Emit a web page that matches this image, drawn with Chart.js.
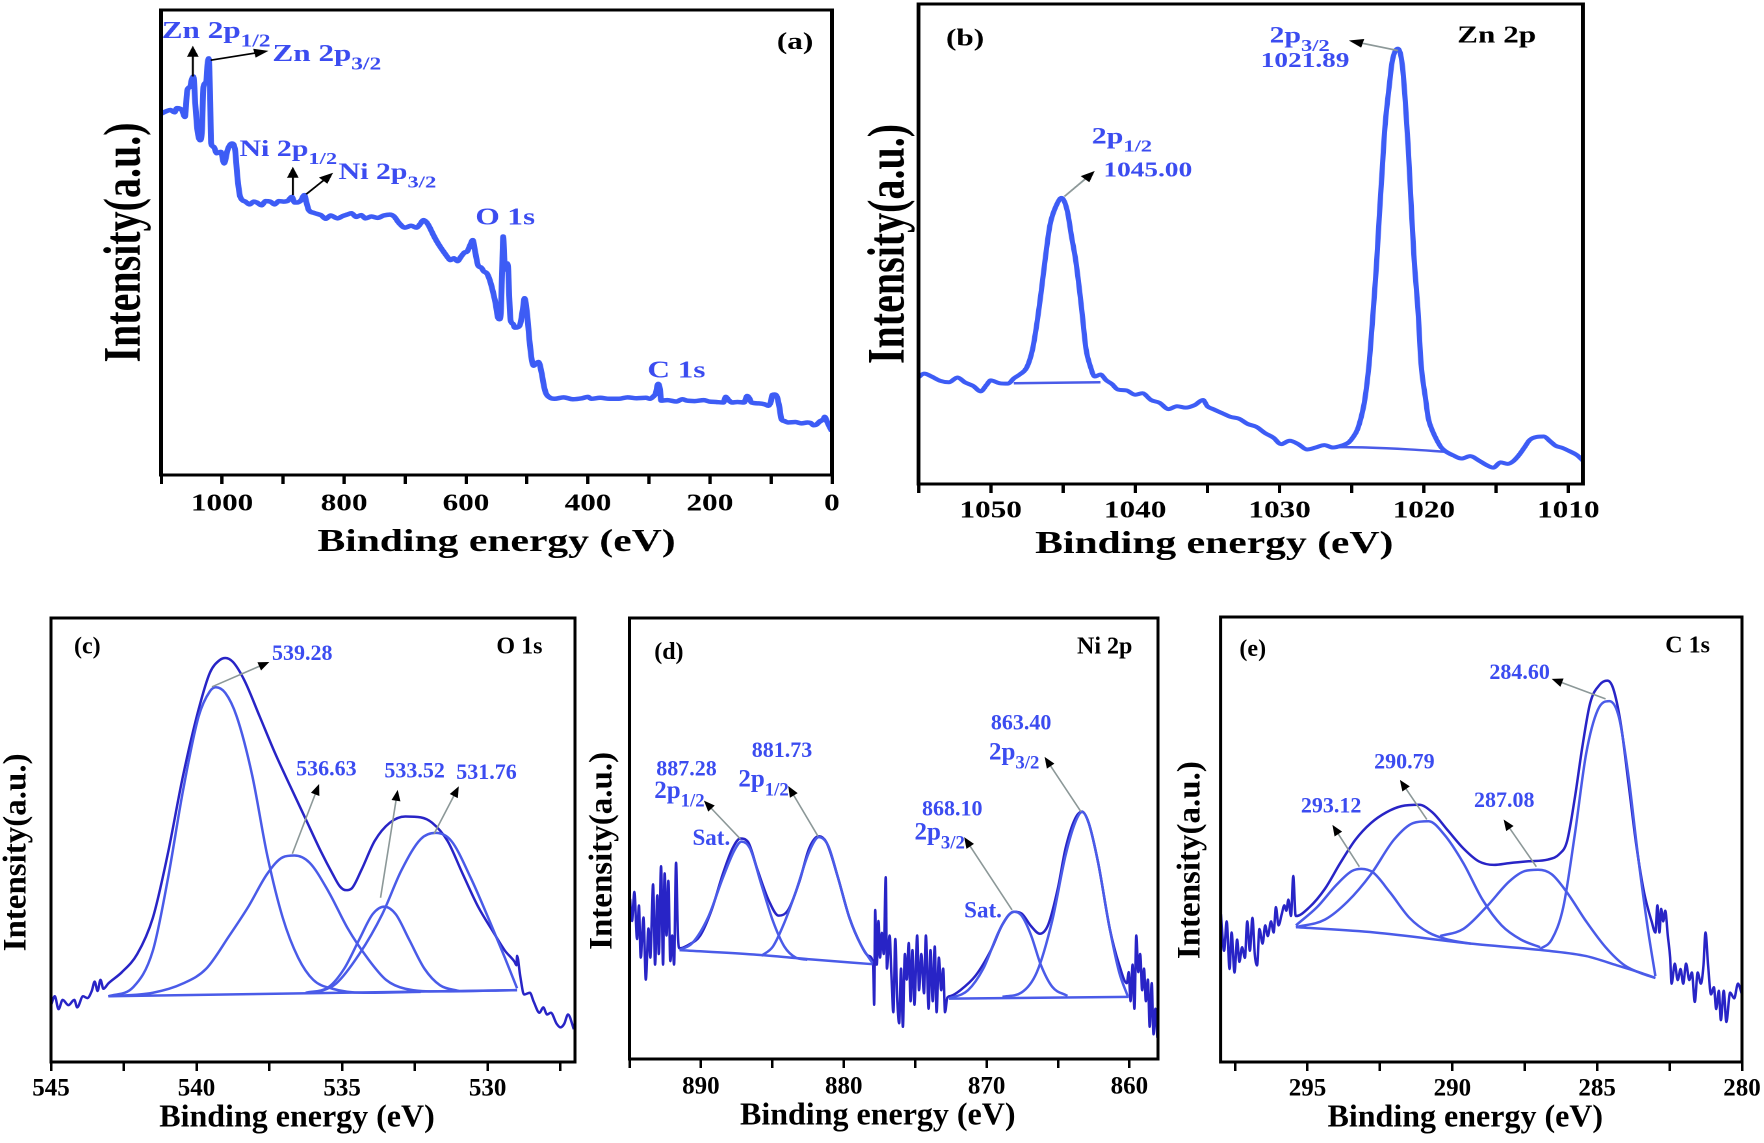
<!DOCTYPE html>
<html>
<head>
<meta charset="utf-8">
<script src="https://cdn.jsdelivr.net/npm/chart.js@4.4.0/dist/chart.umd.min.js"></script>
<style>
body { margin: 0; background: #fff; width: 1764px; height: 1143px; position: relative; overflow: hidden; }
.p { position: absolute; transform-origin: 0 0; }
</style>
</head>
<body>
<div class="p" id="pa"><canvas></canvas></div>
<div class="p" id="pb"><canvas></canvas></div>
<div class="p" id="pc"><canvas></canvas></div>
<div class="p" id="pd"><canvas></canvas></div>
<div class="p" id="pe"><canvas></canvas></div>
<script>
// ---- data: [binding energy eV, intensity a.u. (0 = frame bottom, 100 = frame top)]
var survey = [[1100,77.7],[1092,78.2],[1085,78.5],[1078,78.0],[1074,78.9],[1066,78.5],[1061,77.0],[1057,82.8],[1052.5,83.5],[1050,84.9],[1047,85.7],[1044,79.9],[1040.5,74.2],[1036,72.0],[1033,74.2],[1030.6,83.5],[1026,84.6],[1024,88.2],[1022,89.6],[1019.7,82.1],[1018,71.3],[1014,70.6],[1008.7,69.2],[1002,69.5],[996.7,67.0],[991,69.9],[984,71.3],[978.7,69.9],[975,64.2],[970.5,59.9],[962,58.8],[955,58.2],[948,58.8],[943,58.6],[935,58.0],[929,58.9],[921,58.8],[914,58.2],[907,58.9],[899,58.8],[892,59.0],[885.6,59.8],[881,58.6],[877.4,58.6],[871,59.0],[865,60.2],[862,58.8],[858,57.0],[850,56.4],[843,56.1],[838,55.9],[830,55.1],[822,55.8],[811,55.2],[802,55.7],[795,56.0],[788,56.3],[780,55.5],[772,55.9],[765,55.2],[755,55.6],[745,55.3],[735,55.8],[725,56.0],[718,55.6],[710,54.2],[700,53.2],[690,53.6],[681,53.2],[675,54.0],[670,54.8],[665,54.4],[661,53.6],[655,52.0],[649,50.5],[642,49.0],[635,47.7],[630,46.8],[626,46.2],[620,46.6],[614,46.0],[608,47.0],[603,47.8],[598,48.1],[593,49.5],[589,50.5],[585,48.0],[580,45.0],[575,44.6],[571,43.8],[566,43.4],[561,41.9],[556,39.5],[551,36.5],[548,34.0],[545,33.5],[543,34.8],[541,43.0],[539,51.3],[537,46.0],[535.5,44.2],[533,45.5],[531,44.6],[529,38.0],[527,33.3],[523,32.5],[520,31.7],[515,31.8],[511,32.5],[507,35.5],[504,38.0],[500,34.8],[496,29.0],[492,24.6],[489,23.5],[486,23.9],[481,24.3],[476,21.9],[472,19.0],[469,17.6],[462,16.6],[455,16.4],[440,16.7],[425,16.3],[410,16.5],[400,16.8],[395,16.4],[380,16.6],[365,16.4],[349,16.4],[335,16.7],[320,16.5],[305,16.6],[298,16.4],[292,17.0],[289,17.5],[285,19.6],[282,18.5],[280,16.0],[270,16.1],[255,15.8],[245,16.3],[238,16.0],[225,15.9],[210,16.1],[201,15.8],[190,15.7],[178,15.6],[174,16.8],[170,16.2],[164,15.6],[155,15.7],[144,15.6],[139,17.0],[135,16.4],[132,15.6],[120,15.4],[110,15.2],[104,14.9],[100,15.8],[98,17.2],[94,17.3],[90,16.8],[86,14.5],[83,12.1],[78,11.6],[72,11.3],[60,11.4],[50,11.1],[40,11.3],[35,11.2],[30,10.7],[26,10.8],[20,11.5],[14,12.0],[12,12.5],[8,11.5],[4,10.4],[0,9.4]];

var zn2p = [[1055.1,22.0],[1054.6,23.0],[1054.1,22.4],[1053.5,21.5],[1052.9,21.2],[1052.3,22.2],[1051.8,21.2],[1051.2,20.4],[1050.7,19.3],[1050.3,20.6],[1050.0,21.6],[1049.4,21.0],[1048.8,20.9],[1048.4,22.0],[1048.0,22.8],[1047.5,24.3],[1047.1,28.1],[1046.8,33.5],[1046.5,40.2],[1046.2,47.5],[1045.9,53.9],[1045.4,58.4],[1045.1,59.6],[1044.7,56.9],[1044.4,51.5],[1044.1,46.3],[1043.7,36.4],[1043.4,28.1],[1043.1,24.5],[1042.8,22.4],[1042.4,22.8],[1042.0,21.6],[1041.6,20.8],[1041.2,19.7],[1040.6,19.5],[1040.0,18.6],[1039.5,18.9],[1038.9,17.5],[1038.3,16.9],[1037.7,15.6],[1037.1,16.2],[1036.5,15.9],[1035.9,16.4],[1035.3,17.5],[1035.0,16.2],[1034.6,15.6],[1034.0,14.8],[1033.4,14.0],[1032.8,13.6],[1032.2,12.5],[1031.6,11.9],[1031.0,10.6],[1030.4,9.6],[1029.9,8.3],[1029.3,9.0],[1028.7,8.3],[1028.1,7.2],[1027.5,7.6],[1026.9,8.1],[1026.3,7.6],[1025.7,8.0],[1025.2,8.7],[1024.9,9.8],[1024.6,11.4],[1024.3,14.5],[1024.1,17.5],[1023.8,25.0],[1023.6,32.6],[1023.3,45.0],[1023.1,55.4],[1022.9,65.0],[1022.7,74.4],[1022.4,83.0],[1022.2,88.0],[1021.8,90.7],[1021.5,87.3],[1021.3,80.0],[1021.1,70.6],[1020.9,59.0],[1020.7,47.8],[1020.4,35.5],[1020.2,25.0],[1019.9,18.0],[1019.7,13.7],[1019.4,11.0],[1019.1,9.1],[1018.8,7.6],[1018.5,6.8],[1018.0,6.0],[1017.4,5.3],[1016.8,5.8],[1016.2,4.9],[1015.7,4.0],[1015.2,3.4],[1014.7,4.5],[1014.2,4.2],[1013.8,4.8],[1013.4,6.1],[1013.0,7.8],[1012.7,9.1],[1012.2,9.8],[1011.7,9.9],[1011.3,9.0],[1010.9,8.0],[1010.4,7.5],[1009.9,6.8],[1009.4,6.0],[1008.9,4.6]];
var zn2pBase1 = [[1048.4,21.0],[1042.4,21.2]];
var zn2pBase2 = [[1026.3,7.7],[1024,7.6],[1021,7.2],[1018.5,6.7]];

var o1sRaw = [[545.0,12.8],[544.87,14.8],[544.74,11.9],[544.6,14],[544.4,12.8],[544.2,14],[544.1,12.3],[543.9,14.8],[543.75,14.4],[543.6,16],[543.5,18.1],[543.4,16],[543.3,18.5],[543.2,16.5],[543.03,17.7],[542.57,20.2],[542.04,24.3],[541.5,32.5],[541.0,46.5],[540.46,64.6],[539.93,79.4],[539.54,87.7],[539.21,90.5],[539.01,91],[538.75,90.1],[538.36,86],[537.83,77.8],[537.3,69.5],[536.78,62.1],[536.25,54.7],[535.72,47.3],[535.33,42.4],[535.07,39.5],[534.87,38.7],[534.67,39.1],[534.34,43.2],[533.88,49.8],[533.36,53.9],[532.83,55.3],[532.3,55.1],[531.91,53.9],[531.38,49.8],[530.86,42.4],[530.33,35],[529.8,29.2],[529.41,25.1],[529.08,22.6],[529.01,21.8],[528.99,23.9],[528.88,19.3],[528.75,15.2],[528.55,15.6],[528.42,13.6],[528.22,11.1],[528.09,12.3],[527.96,10.7],[527.83,11.1],[527.63,8.6],[527.5,7.8],[527.37,8.6],[527.24,10.7],[527.04,7.4]];
var o1sFit1 = [[543.03,14.8],[542.17,16.9],[541.5,25.1],[541.0,40.7],[540.46,61.3],[539.93,77.8],[539.54,83.5],[539.34,84.4],[539.01,83.1],[538.62,77.8],[538.09,64.6],[537.57,46.5],[537.04,32.5],[536.51,23.5],[535.99,18.5],[535.33,16.5],[534.28,15.6],[532.3,15.8]];
var o1sFit2 = [[543.03,14.8],[541.5,15.6],[540.46,17.7],[539.67,21],[538.88,28.4],[538.22,35],[537.57,42.4],[537.04,46.1],[536.64,46.5],[536.12,44.9],[535.46,38.3],[534.8,30],[534.14,23.5],[533.49,18.5],[532.83,16.5],[531.64,15.9],[528.99,16.2]];
var o1sFit3 = [[536.25,15.6],[535.46,16.9],[534.93,21],[534.41,27.6],[533.95,33.3],[533.55,35],[533.16,33.3],[532.7,27.6],[532.17,21],[531.64,17.3],[530.99,16]];
var o1sFit4 = [[535.86,15.6],[535.2,17.7],[534.41,24.3],[533.62,33.3],[532.96,43.2],[532.3,50.2],[531.78,51.6],[531.25,49.8],[530.59,41.6],[529.93,31.7],[529.41,23.5],[528.99,16.6]];
var o1sBase = [[543.03,14.8],[528.99,16.2]];
var o1sPeaks = ['539.28', '536.63', '533.52', '531.76'];

var ni2pRaw = [[894.96,36.3],[894.82,31.3],[894.66,37.9],[894.47,27.2],[894.34,34.8],[894.21,23],[894.02,32.1],[893.86,18],[893.67,29.6],[893.54,23],[893.35,39.6],[893.21,21.4],[893.05,37.1],[892.95,23.8],[892.79,43.7],[892.65,21.4],[892.54,42.1],[892.41,28],[892.28,40.4],[892.14,22.2],[892.01,28],[891.88,21.4],[891.74,44.5],[891.61,28],[891.5,25.1],[890.86,25.9],[890.05,28],[889.25,33.8],[888.45,42.1],[887.78,47.8],[887.24,50],[886.7,49.2],[886.04,42.9],[885.23,35.8],[884.56,32.5],[883.89,33.8],[883.09,40.4],[882.42,47.8],[881.75,50.5],[881.21,49.1],[880.41,41.2],[879.61,32.1],[878.8,25.9],[878.27,23.4],[877.95,21.8],[877.87,12.3],[877.8,33.8],[877.69,21.4],[877.57,31.3],[877.46,23],[877.33,28.6],[877.2,23.8],[877.06,41.2],[876.98,20.5],[876.79,28],[876.66,18.9],[876.53,10.6],[876.39,27.2],[876.26,13.9],[876.12,8.1],[875.99,20.5],[875.86,7.3],[875.72,23.8],[875.59,18],[875.45,26.3],[875.32,13.1],[875.19,24.7],[875.05,12.3],[874.86,28],[874.73,15.6],[874.57,23.8],[874.38,14.9],[874.25,28],[874.06,11.4],[873.93,24.7],[873.77,13.1],[873.63,25.5],[873.5,10.6],[873.34,23],[873.18,15.6],[873.04,20.5],[872.91,10.6],[872.75,13.9],[872.51,14.3],[871.84,15.6],[870.77,18.9],[869.69,24.7],[868.89,30.5],[868.09,33.4],[867.55,33],[866.88,30.1],[866.27,28.4],[865.68,30.5],[865.01,38.7],[864.47,47.8],[863.8,54.5],[863.32,56.1],[862.86,53.6],[862.19,44.5],[861.38,29.6],[860.72,21.4],[860.18,17.2],[860.05,19.7],[859.92,13.1],[859.78,21.4],[859.65,11.4],[859.52,28],[859.38,19.7],[859.25,23.8],[859.11,15.6],[858.98,20.5],[858.85,13.1],[858.71,18],[858.58,7.3],[858.44,17.2],[858.31,5.6],[858.18,11.4],[858.04,4.8]];
var ni2pFit1 = [[891.5,24.7],[890.6,26.3],[889.5,32.1],[888.45,41.2],[887.64,47.4],[887.16,49.3],[886.57,47.8],[885.77,39.6],[884.96,31.3],[884.16,25.5],[883.36,23],[882.55,22.5]];
var ni2pFit2 = [[885.77,23.4],[884.96,25.5],[884.16,30.9],[883.36,37.9],[882.42,47],[881.75,50.3],[881.08,48.3],[880.41,41.2],[879.61,32.1],[878.8,25.9],[878.0,21.8]];
var ni2pFit3 = [[872.64,13.7],[871.3,15.6],[870.23,20.5],[869.16,28.8],[868.49,32.5],[868.04,33.4],[867.55,32.5],[866.88,28],[866.21,21.4],[865.41,16.4],[864.34,14.3]];
var ni2pFit4 = [[868.89,14.1],[867.55,15.1],[866.48,19.7],[865.41,31.3],[864.47,46.2],[863.8,53.6],[863.32,56],[862.86,53.6],[862.19,44.5],[861.38,29.6],[860.72,19.7],[860.1,14.1]];
var ni2pBase1 = [[891.5,24.7],[886.3,23.7],[882.3,22.6],[877.98,21.5]];
var ni2pBase2 = [[872.64,13.7],[860.05,14.1]];
var ni2pPeaks = ['887.28', '881.73', '868.10', '863.40'];

var c1sRaw = [[297.99,33.2],[297.88,25],[297.79,31.6],[297.69,20.9],[297.62,29.1],[297.52,20.1],[297.43,27.5],[297.35,22.5],[297.26,25.8],[297.16,23.4],[297.08,31.6],[296.99,25],[296.9,32.4],[296.82,24.2],[296.74,21.7],[296.66,29.9],[296.55,26.6],[296.46,30.7],[296.37,28.3],[296.26,31.6],[296.17,29.1],[296.09,34.8],[296.0,30.7],[295.89,33.2],[295.8,35.2],[295.73,34],[295.66,36.5],[295.57,32.8],[295.49,41.8],[295.42,33.2],[295.4,32.8],[294.93,34.8],[294.4,38.9],[293.87,44.7],[293.34,50],[292.81,53.7],[292.28,56.1],[291.75,57.5],[291.15,57.8],[290.69,56.1],[290.15,52],[289.62,48],[289.09,45.1],[288.56,44.3],[288.03,44.7],[287.37,45.1],[286.7,45.5],[286.31,46.7],[286.04,49.6],[285.77,59.4],[285.51,70.9],[285.24,80.7],[284.91,84.8],[284.65,85.7],[284.45,84],[284.18,75.8],[283.92,62.7],[283.65,48.8],[283.38,38.1],[283.12,31.6],[282.99,29.1],[282.92,35.2],[282.85,29.1],[282.79,34.4],[282.72,31.6],[282.65,34],[282.56,28.3],[282.48,23.4],[282.43,17.6],[282.32,22.1],[282.22,18.4],[282.12,20.9],[282.03,17.6],[281.93,22.1],[281.82,18.4],[281.73,20.1],[281.63,13.5],[281.53,20.1],[281.42,17.6],[281.33,21.7],[281.26,29.1],[281.17,21.7],[281.07,15.2],[280.97,16.8],[280.89,11.9],[280.8,16],[280.73,9.4],[280.63,16],[280.54,9],[280.41,15.6],[280.27,14.3],[280.14,17.6],[280.0,15.2]];
var c1sFit1 = [[295.4,30.7],[294.67,34.8],[294.0,39.8],[293.47,42.9],[293.14,43.4],[292.74,42.6],[292.15,38.1],[291.48,32.4],[290.82,29.1],[290.15,27.5],[289.36,26.6]];
var c1sFit2 = [[295.4,30.3],[294.4,32],[293.61,36.1],[292.81,42.2],[292.01,50],[291.35,53.7],[290.82,54.1],[290.29,51.2],[289.62,44.7],[288.96,36.5],[288.3,30.7],[287.63,27.5],[286.97,25.8]];
var c1sFit3 = [[290.42,28.3],[289.62,29.9],[288.83,34.8],[288.03,40.6],[287.5,42.9],[287.04,43.2],[286.57,42.2],[286.04,38.1],[285.38,31.6],[284.71,25.8],[284.05,21.7],[283.38,19.7],[282.99,18.9]];
var c1sFit4 = [[286.97,25.4],[286.57,27.5],[286.17,34.8],[285.77,51.2],[285.38,69.3],[284.98,79.1],[284.58,81.1],[284.25,77.5],[283.92,64.3],[283.59,46.3],[283.25,29.9],[282.99,19.3]];
var c1sBase = [[295.4,30.3],[292.68,29.1],[289.36,26.6],[286.7,25],[285.38,23.8],[284.31,21.7],[283.52,20.1],[282.99,18.9]];
var c1sPeaks = ['293.12', '290.79', '287.08', '284.60'];

// ---- styles
var FONT = "'Liberation Serif', 'Times New Roman', serif";
var SURVEY = '#3d5cf5', RAW = '#2824c6', FIT = '#4a5be8', TXT = '#3b4cf0', GREY = '#8c9898';
var NB = '\u00a0';

function line(pairs, color, width) {
  return {
    data: pairs.map(function (p) { return {x: p[0], y: p[1]}; }),
    borderColor: color, borderWidth: width, pointRadius: 0, fill: false,
    cubicInterpolationMode: 'monotone'
  };
}

// frame, labels and arrows
var marks = {
  id: 'marks',
  afterDatasetsDraw: function (chart, args, o) {
    var ctx = chart.ctx, xs = chart.scales.x, ys = chart.scales.y, a = chart.chartArea;
    ctx.save();
    (o.arrows || []).forEach(function (r) {
      var x1 = xs.getPixelForValue(r[0]), y1 = ys.getPixelForValue(r[1]);
      var x2 = xs.getPixelForValue(r[2]), y2 = ys.getPixelForValue(r[3]);
      var ang = Math.atan2(y2 - y1, x2 - x1), c = Math.cos(ang), s = Math.sin(ang);
      ctx.strokeStyle = o.shaft; ctx.lineWidth = 1.6;
      ctx.beginPath(); ctx.moveTo(x1, y1); ctx.lineTo(x2 - 8 * c, y2 - 8 * s); ctx.stroke();
      ctx.fillStyle = '#000';
      ctx.beginPath(); ctx.moveTo(x2, y2);
      ctx.lineTo(x2 - 11 * c + 4.5 * s, y2 - 11 * s - 4.5 * c);
      ctx.lineTo(x2 - 11 * c - 4.5 * s, y2 - 11 * s + 4.5 * c);
      ctx.closePath(); ctx.fill();
    });
    (o.labels || []).forEach(function (t) {
      var x = xs.getPixelForValue(t.x), y = ys.getPixelForValue(t.y);
      ctx.fillStyle = t.c || TXT; ctx.textBaseline = 'middle'; ctx.textAlign = 'left';
      t.p.forEach(function (part, i) {
        var sub = i % 2 === 1;   // odd parts are subscripts
        ctx.font = 'bold ' + (sub ? t.s * 0.75 : t.s) + 'px ' + FONT;
        ctx.fillText(part, x, sub ? y + t.s * 0.42 : y);
        x += ctx.measureText(part).width;
      });
    });
    ctx.lineWidth = 3; ctx.strokeStyle = '#000';
    ctx.strokeRect(a.left, a.top, a.right - a.left, a.bottom - a.top);
    ctx.restore();
  }
};

function panel(id, L, sets, ann) {
  var box = document.getElementById(id);
  box.style.left = L.left + 'px'; box.style.top = L.top + 'px';
  box.style.width = L.w + 'px'; box.style.height = L.h + 'px';
  box.style.transform = 'scaleX(' + L.sx + ')';
  new Chart(box.querySelector('canvas'), {
    type: 'line',
    data: {datasets: sets},
    options: {
      responsive: true, maintainAspectRatio: false, animation: false, devicePixelRatio: 2,
      layout: {padding: {left: 0, top: L.padT, right: L.padR, bottom: 0}},
      plugins: {legend: {display: false}, tooltip: {enabled: false}, marks: ann},
      scales: {
        x: {
          type: 'linear', reverse: true, min: L.min, max: L.max,
          afterFit: function (s) { s.height = L.xH; s.paddingLeft = 0; s.paddingRight = 0; },
          border: {display: false},
          grid: {display: true, drawOnChartArea: false, drawTicks: true, tickLength: 9, color: '#000', lineWidth: 2.5},
          ticks: {
            stepSize: L.step, includeBounds: false, autoSkip: false, maxRotation: 0, padding: L.tickPad,
            color: '#000', font: {family: FONT, weight: 'bold', size: L.tickSize},
            callback: function (v) { return v % L.every === 0 ? String(v) : ''; }
          },
          // trailing spaces nudge the title off-centre the way the original sits
          title: {display: true, text: 'Binding energy (eV)' + NB.repeat(L.xShift), color: '#000',
            font: {family: FONT, weight: 'bold', size: L.titleSize}, padding: {top: 0, bottom: L.titlePadB}}
        },
        y: {
          min: 0, max: 100,
          afterFit: function (s) { s.width = L.yW; },
          border: {display: false}, grid: {display: false}, ticks: {display: false},
          title: {display: true, text: 'Intensity(a.u.)' + NB.repeat(L.yShift), color: '#000',
            font: {family: FONT, weight: 'bold', size: L.ySize, lineHeight: L.yLH}, padding: {top: L.yPad, bottom: 0}}
        }
      }
    },
    plugins: [marks]
  });
}

// (a) survey
panel('pa', {left: 100, top: 0, w: 573, h: 565, sx: 1.3, padT: 10, padR: 10, yW: 47, xH: 90,
  min: 0, max: 1100, step: 100, every: 200, tickPad: 6, tickSize: 24, titleSize: 32, titlePadB: 3, xShift: 0,
  ySize: 40, yLH: 1, yPad: 0, yShift: 0},
  [line(survey, SURVEY, 4.5)],
  {shaft: '#000',
   arrows: [[1048, 85.7, 1048, 92.3], [1018.6, 89.2, 924, 91.2], [884, 60.2, 884, 66.3], [862, 60.4, 818, 65]],
   labels: [
     {x: 1099, y: 95.3, p: ['Zn 2p', '1/2'], s: 24},
     {x: 917.5, y: 90.4, p: ['Zn 2p', '3/2'], s: 24},
     {x: 971.6, y: 69.9, p: ['Ni 2p', '1/2'], s: 23},
     {x: 809, y: 64.9, p: ['Ni 2p', '3/2'], s: 23},
     {x: 584.6, y: 55.2, p: ['O 1s'], s: 24},
     {x: 302.5, y: 22.3, p: ['C 1s'], s: 24},
     {x: 90.3, y: 92.9, p: ['(a)'], s: 24, c: '#000'}
   ]});

// (b) Zn 2p
panel('pb', {left: 860, top: 0, w: 572, h: 568, sx: 1.3, padT: 4, padR: 16, yW: 45, xH: 84,
  min: 1009, max: 1055, step: 5, every: 10, tickPad: 4, tickSize: 24, titleSize: 32, titlePadB: 4, xShift: 7,
  ySize: 40, yLH: 1, yPad: 3, yShift: 0},
  [line(zn2p, SURVEY, 4), line(zn2pBase1, FIT, 2.5), line(zn2pBase2, FIT, 2.5)],
  {shaft: GREY,
   arrows: [[1021.8, 90.3, 1025.2, 92.4], [1044.9, 59.9, 1042.8, 65.2]],
   labels: [
     {x: 1030.7, y: 93.2, p: ['2p', '3/2'], s: 23},
     {x: 1031.3, y: 88.0, p: ['1021.89'], s: 21},
     {x: 1043.0, y: 72.2, p: ['2p', '1/2'], s: 23},
     {x: 1042.2, y: 65.2, p: ['1045.00'], s: 21},
     {x: 1017.7, y: 93.3, p: ['Zn 2p'], s: 24, c: '#000'},
     {x: 1053.1, y: 92.6, p: ['(b)'], s: 24, c: '#000'}
   ]});

// (c) O 1s
panel('pc', {left: 0, top: 608, w: 585, h: 532, sx: 1, padT: 10, padR: 10, yW: 51, xH: 78,
  min: 527, max: 545, step: 2.5, every: 5, tickPad: 3, tickSize: 25, titleSize: 32, titlePadB: 2.8, xShift: 4,
  ySize: 33, yLH: 1, yPad: 0.5, yShift: 3},
  [line(o1sBase, FIT, 2.5), line(o1sFit1, FIT, 2.5), line(o1sFit2, FIT, 2.5), line(o1sFit3, FIT, 2.5),
   line(o1sFit4, FIT, 2.5), line(o1sRaw, RAW, 2.5)],
  {shaft: GREY,
   arrows: [[539.47, 84.5, 537.5, 90.1], [536.71, 46.9, 535.79, 62.6], [533.68, 37, 533.09, 61.3], [531.84, 51.4, 530.99, 62.1]],
   labels: [
     {x: 537.41, y: 91.8, p: [o1sPeaks[0]], s: 22},
     {x: 536.58, y: 65.8, p: [o1sPeaks[1]], s: 22},
     {x: 533.55, y: 65.4, p: [o1sPeaks[2]], s: 22},
     {x: 531.08, y: 65.0, p: [o1sPeaks[3]], s: 22},
     {x: 529.7, y: 93.4, p: ['O 1s'], s: 24, c: '#000'},
     {x: 544.21, y: 93.4, p: ['(c)'], s: 24, c: '#000'}
   ]});

// (d) Ni 2p
panel('pd', {left: 586, top: 608, w: 582, h: 532, sx: 1, padT: 10, padR: 10, yW: 43.5, xH: 81,
  min: 858, max: 895, step: 5, every: 10, tickPad: 4, tickSize: 25, titleSize: 32, titlePadB: 4.8, xShift: 4,
  ySize: 33, yLH: 1, yPad: 0.5, yShift: 3},
  [line(ni2pBase1, FIT, 2.5), line(ni2pBase2, FIT, 2.5), line(ni2pFit1, FIT, 2.5), line(ni2pFit2, FIT, 2.5),
   line(ni2pFit3, FIT, 2.5), line(ni2pFit4, FIT, 2.5), line(ni2pRaw, RAW, 2.5)],
  {shaft: GREY,
   arrows: [[887.24, 49.9, 889.79, 58.6], [881.8, 50.5, 883.89, 61.9], [868.22, 33.8, 871.57, 50.3], [863.4, 56.1, 865.94, 68.5]],
   labels: [
     {x: 893.13, y: 65.6, p: [ni2pPeaks[0]], s: 22},
     {x: 893.27, y: 60.7, p: ['2p', '1/2'], s: 25},
     {x: 890.59, y: 49.9, p: ['Sat.'], s: 23},
     {x: 886.44, y: 69.8, p: [ni2pPeaks[1]], s: 22},
     {x: 887.38, y: 63.2, p: ['2p', '1/2'], s: 25},
     {x: 874.52, y: 56.5, p: [ni2pPeaks[2]], s: 22},
     {x: 875.05, y: 51.2, p: ['2p', '3/2'], s: 25},
     {x: 871.57, y: 33.4, p: ['Sat.'], s: 23},
     {x: 869.7, y: 76.0, p: [ni2pPeaks[3]], s: 22},
     {x: 869.83, y: 69.4, p: ['2p', '3/2'], s: 25},
     {x: 863.67, y: 93.4, p: ['Ni 2p'], s: 24, c: '#000'},
     {x: 893.27, y: 92.1, p: ['(d)'], s: 24, c: '#000'}
   ]});

// (e) C 1s
panel('pe', {left: 1174, top: 607, w: 588, h: 533, sx: 1, padT: 10, padR: 20, yW: 46.6, xH: 78,
  min: 280, max: 298, step: 2.5, every: 5, tickPad: 3, tickSize: 25, titleSize: 32, titlePadB: 2.8, xShift: 4,
  ySize: 33, yLH: 1, yPad: 0.5, yShift: 5},
  [line(c1sBase, FIT, 2.5), line(c1sFit1, FIT, 2.5), line(c1sFit2, FIT, 2.5), line(c1sFit3, FIT, 2.5),
   line(c1sFit4, FIT, 2.5), line(c1sRaw, RAW, 2.5)],
  {shaft: GREY,
   arrows: [[293.21, 43.9, 294.14, 53.3], [290.88, 54.5, 291.81, 63.4], [287.1, 43.9, 288.23, 54.5], [284.71, 81.6, 286.57, 86.1]],
   labels: [
     {x: 295.23, y: 57.4, p: [c1sPeaks[0]], s: 22},
     {x: 292.7, y: 67.2, p: [c1sPeaks[1]], s: 22},
     {x: 289.25, y: 58.6, p: [c1sPeaks[2]], s: 22},
     {x: 288.72, y: 87.3, p: [c1sPeaks[3]], s: 22},
     {x: 282.65, y: 93.4, p: ['C 1s'], s: 24, c: '#000'},
     {x: 297.35, y: 92.6, p: ['(e)'], s: 24, c: '#000'}
   ]});
</script>
</body>
</html>
